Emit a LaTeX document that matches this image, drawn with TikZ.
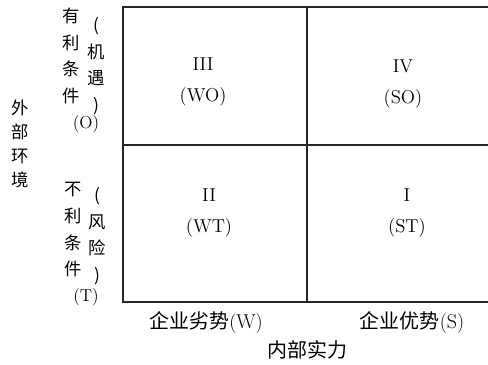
\documentclass[tikz,border=0pt]{standalone}
\usepackage{fontspec}
\newfontfamily\cjk{Noto Sans CJK SC}
\usetikzlibrary{positioning}

\begin{document}
\begin{tikzpicture}[
    x=0.75pt, y=-0.75pt,
    grid/.style={line width=1.2pt, black!85},
    quad/.style={font=\fontsize{14}{23}\selectfont, align=center, inner sep=1pt},
    side/.style={font=\cjk\fontsize{13}{20}\selectfont, align=center, inner sep=0pt},
    tag/.style={font=\fontsize{13}{14}\selectfont, inner sep=0pt},
    axis/.style={font=\cjk\fontsize{15}{18}\selectfont, inner sep=1pt},
]
    \useasboundingbox (0,0) rectangle (488,364);

    % frame of the matrix
    \coordinate (tl) at (123,7);
    \coordinate (tr) at (488,7);
    \coordinate (bl) at (123,302);
    \coordinate (br) at (488,302);
    \coordinate (ml) at (123,145);
    \coordinate (mr) at (488,145);
    \coordinate (mt) at (307,7);
    \coordinate (mb) at (307,302);

    \draw[grid] (tr) -- (tl) -- (bl) -- (br);
    \draw[grid] (ml) -- (mr);
    \draw[grid] (mt) -- (mb);

    % quadrants
    \node[quad] (wo) at (203,82)  {III\\(WO)};
    \node[quad] (so) at (403,84)  {IV\\(SO)};
    \node[quad] (wt) at (209,213) {II\\(WT)};
    \node[quad] (st) at (407,213) {I\\(ST)};

    % external side
    \node[side, font=\cjk\fontsize{13}{18}\selectfont] (env) at (20,144) {外\\部\\环\\境};
    \node[side] (good)  at (71,56)  {有\\利\\条\\件};
    \node[side] (opp)   at (96,66)  {(\\机\\遇\\)};
    \node[tag]  (o)     at (86,124) {(O)};
    \node[side] (bad)   at (73,230) {不\\利\\条\\件};
    \node[side] (risk)  at (97,236) {(\\风\\险\\)};
    \node[tag]  (t)     at (86,297) {(T)};

    % internal side
    \node[axis] (weak)   at (206,323) {企业劣势\rmfamily(W)};
    \node[axis] (strong) at (412,323) {企业优势\rmfamily(S)};
    \node[axis] (inner)  at (307,350) {内部实力};
\end{tikzpicture}
\end{document}
